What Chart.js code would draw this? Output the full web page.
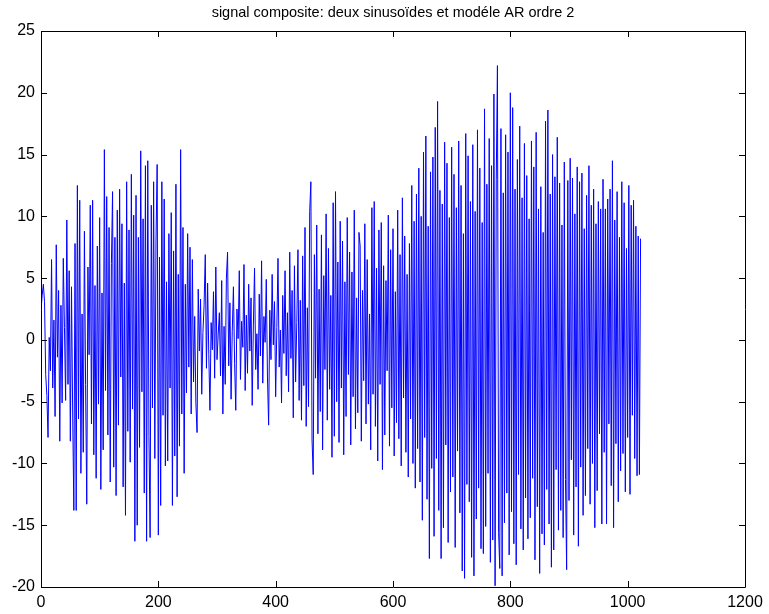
<!DOCTYPE html>
<html>
<head>
<meta charset="utf-8">
<script src="https://cdn.jsdelivr.net/npm/chart.js@4.4.1/dist/chart.umd.min.js"></script>
<style>
  html, body { margin: 0; padding: 0; background: #fff; }
  #wrap { width: 769px; height: 614px; }
</style>
</head>
<body>
<div id="wrap"><canvas id="chart" width="769" height="614"></canvas></div>
<script>
// sample spacing of the series below (one value read every 2 samples)
const sampleStep = 2;

// signal values, x = 0, 2, 4 ... 1022
const signal = [
  2.4, 3.6, 4.5, 3.1, -2.8, -4.5, -7.9, 0.2, -2.5, 6.5, -3.9, 1.6, -6.2, 7.7, -1.4, 4.0,
  -8.2, 2.8, -5.1, 6.6, 1.0, -4.9, 9.7, -3.6, 5.6, -8.2, 4.3, -6.0, -13.8, 7.8, -13.8, 12.5,
  -6.4, 11.3, -10.8, 2.1, -9.1, 8.8, -3.6, -13.3, 5.9, -1.2, 10.9, -6.8, 11.3, -9.3, 4.4, -11.2,
  7.6, -5.2, 9.9, -12.1, 3.8, -8.9, 15.4, -4.1, 11.6, -7.7, 9.1, -11.5, 6.2, 12.0, -10.3, 8.3,
  -12.6, 10.5, -6.9, 12.2, -3.0, 9.4, -11.9, 4.6, -14.2, 12.8, -7.4, 8.9, -9.9, 13.4, -5.6, 10.1,
  -16.3, 11.7, -15.0, 8.3, -8.7, 15.3, -4.2, 9.8, -12.4, 14.1, -16.3, 14.5, -7.8, -16.0, 10.9, -5.5,
  12.8, -9.6, 8.0, 14.2, -15.8, 6.7, -13.4, 12.8, -6.1, 11.4, -10.2, 4.7, -9.8, 8.6, -3.9, 10.3,
  -13.4, 7.2, -9.4, 12.6, -12.7, 5.3, -8.6, 15.4, -6.0, 9.1, -10.8, 4.5, -4.3, 8.6, -2.2, 7.5,
  -6.0, 6.5, -3.4, 1.9, -5.1, -7.5, 4.1, -0.9, 3.3, -4.4, 0.6, 2.8, 6.9, -2.3, 4.6, -1.2,
  -5.7, 1.4, -0.8, 3.9, -3.1, 5.9, -1.6, 0.4, 2.2, -2.9, 4.8, -6.0, 1.1, -3.6, 5.0, 7.1,
  -2.1, 3.0, -4.8, 0.7, 4.3, -1.9, -5.7, 2.5, 0.1, 5.6, -3.2, 1.5, -0.6, 6.1, -4.1, 2.0,
  -2.7, 4.5, -0.9, 3.4, -5.3, 1.2, 5.8, -2.4, 0.5, -4.0, 3.7, -1.3, 6.4, -3.5, 1.9, -0.2,
  4.9, -3.0, -6.9, 2.4, -1.6, 5.3, -0.4, 3.1, -4.6, 1.0, 6.6, -2.2, 0.8, -5.1, 3.6, -1.1,
  5.6, -2.9, 2.2, -4.2, 7.1, -1.5, 4.0, -6.3, 6.0, -3.4, 1.4, 7.3, -4.9, 3.2, -6.5, 6.8,
  -3.7, 9.1, -7.0, 2.6, -5.4, 10.4, 12.8, -8.1, -10.9, 6.9, -3.1, 9.3, -7.6, 4.1, -5.8, 8.5,
  -8.9, 5.2, -2.4, 10.2, -6.5, 7.4, -4.0, 3.6, -9.5, 11.1, -7.8, 12.0, -5.0, 6.3, -8.3, 9.6,
  -3.9, 8.0, -9.3, 4.7, -6.2, 9.9, -2.8, 7.1, -8.5, 5.5, -4.6, 10.5, -7.2, 3.4, -5.9, 8.7,
  7.6, -8.2, 4.0, -3.3, 9.4, -6.8, 6.5, -5.2, 2.1, -8.9, 10.7, -4.4, 11.2, -7.0, 5.8, -9.8,
  8.9, -3.6, 9.5, -10.5, 6.0, -7.7, 4.8, -2.5, 10.1, -8.6, 7.3, -5.5, 9.0, -9.4, 3.9, -6.7,
  10.5, -8.0, 6.9, -10.2, 11.5, -4.7, 8.4, -9.1, 5.3, -11.1, 7.8, -6.4, 12.5, -10.0, 9.6, -12.0,
  11.8, -8.8, 13.9, -11.5, 10.0, -14.6, 15.2, -7.9, 16.5, -12.9, 9.2, -17.7, 13.6, -10.4, 14.8, -15.9,
  17.2, -9.6, 19.3, -13.8, 12.1, -17.7, 11.0, -15.2, 16.0, -8.5, 14.3, -16.4, 9.9, -12.3, 15.6, -11.1,
  13.4, -16.8, 10.7, -9.0, 16.1, -14.0, 12.5, -18.7, 8.6, -19.3, 16.7, -11.7, 14.9, -13.1, 11.2, -17.6,
  15.8, -19.1, 10.4, -14.5, 17.0, -12.0, 13.9, -16.9, 9.5, -17.3, 18.7, -15.1, 12.6, -10.8, 16.3, -18.0,
  14.1, -16.2, 19.9, -19.9, 13.0, 22.2, -15.6, -18.5, 17.1, -19.1, 11.9, -14.8, 16.6, -12.4, 15.2, -17.4,
  20.0, -13.9, 18.8, -16.5, 12.2, -18.2, 14.6, -10.9, 17.3, -15.3, 11.5, -17.0, 15.9, -12.8, 13.3, -16.1,
  9.8, -14.4, 16.1, -11.2, 14.0, -17.8, 16.8, -13.5, 10.6, -18.9, 12.4, -15.7, 8.7, -16.6, 17.7, -12.1,
  18.6, -14.9, 11.8, -18.4, 15.0, -17.0, 13.2, -10.5, 16.4, -15.4, 12.7, -13.8, 9.3, -16.0, 14.4, -11.3,
  -18.6, 12.9, -13.0, 14.7, -9.7, 13.1, -15.8, 10.2, -11.9, 14.0, -16.7, 12.8, -10.3, 13.5, -14.2, 9.0,
  -12.6, 11.7, -8.8, 14.1, -13.3, 10.9, -10.0, 12.2, -15.2, 9.4, -12.2, 11.2, -7.6, 10.6, -14.9, 13.0,
  -9.1, 10.6, -14.9, 11.4, -6.8, 12.2, -11.8, 14.5, -15.2, 9.7, -8.4, 12.0, -13.1, 8.3, -10.6, 12.8,
  -9.2, 11.1, -12.3, 7.4, -7.9, 12.5, -12.5, 10.9, -6.1, 11.3, -9.6, 9.2, -11.0, 8.4, -10.9, 8.2
];

const xTicks = [0, 200, 400, 600, 800, 1000, 1200];
const yTicks = [-20, -15, -10, -5, 0, 5, 10, 15, 20, 25];

const titleText = 'signal composite: deux sinusoïdes et modéle AR ordre 2';
const fontFamily = '"Liberation Sans", Arial, Helvetica, sans-serif';

const points = signal.map((v, i) => ({x: i * sampleStep, y: v}));

// matlab style box with inward ticks on all four sides, title centred over the axes
const boxPlugin = {
    id: 'box',
    afterDraw(chart) {
        const {ctx, chartArea: a, scales} = chart;
        const len = 6;
        ctx.save();
        ctx.strokeStyle = '#000';
        ctx.lineWidth = 1;
        ctx.beginPath();
        ctx.rect(Math.round(a.left) + 0.5, Math.round(a.top) + 0.5,
            Math.round(a.right - a.left), Math.round(a.bottom - a.top));
        xTicks.forEach(t => {
            const px = Math.round(scales.x.getPixelForValue(t)) + 0.5;
            ctx.moveTo(px, a.bottom); ctx.lineTo(px, a.bottom - len);
            ctx.moveTo(px, a.top); ctx.lineTo(px, a.top + len);
        });
        yTicks.forEach(t => {
            const py = Math.round(scales.y.getPixelForValue(t)) + 0.5;
            ctx.moveTo(a.left, py); ctx.lineTo(a.left + len, py);
            ctx.moveTo(a.right, py); ctx.lineTo(a.right - len, py);
        });
        ctx.stroke();

        ctx.fillStyle = '#000';
        ctx.font = '14.5px ' + fontFamily;
        ctx.textAlign = 'center';
        ctx.textBaseline = 'middle';
        ctx.fillText(titleText, (a.left + a.right) / 2, 13);
        ctx.restore();
    }
};

new Chart(document.getElementById('chart'), {
    type: 'line',
    data: {
        datasets: [{
            data: points,
            borderColor: 'rgb(0,0,255)',
            borderWidth: 1,
            pointRadius: 0,
            tension: 0,
            fill: false
        }]
    },
    options: {
        responsive: false,
        animation: false,
        events: [],
        layout: {padding: {left: 0, right: 24, top: 31, bottom: 0}},
        plugins: {
            legend: {display: false},
            tooltip: {enabled: false},
            title: {display: false}
        },
        scales: {
            x: {
                type: 'linear',
                min: 0,
                max: 1200,
                afterFit: s => { s.height = 27; },
                afterBuildTicks: s => { s.ticks = xTicks.map(v => ({value: v})); },
                grid: {display: false, drawTicks: false},
                border: {display: false},
                ticks: {
                    color: '#000', padding: 6, maxRotation: 0,
                    font: {family: fontFamily, size: 16},
                    callback: v => String(v)
                }
            },
            y: {
                type: 'linear',
                min: -20,
                max: 25,
                afterFit: s => { s.width = 41; },
                afterBuildTicks: s => { s.ticks = yTicks.map(v => ({value: v})); },
                grid: {display: false, drawTicks: false},
                border: {display: false},
                ticks: {
                    color: '#000', padding: 6,
                    font: {family: fontFamily, size: 16},
                    callback: v => String(v)
                }
            }
        }
    },
    plugins: [boxPlugin]
});
</script>
</body>
</html>
